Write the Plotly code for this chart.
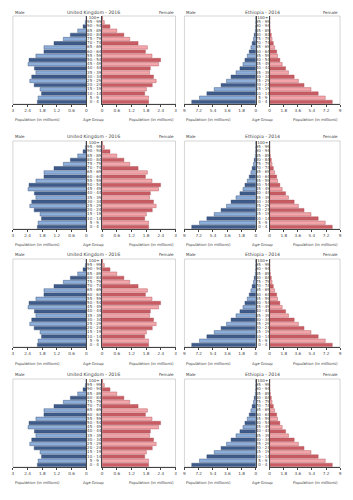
import plotly.graph_objects as go

age_groups = ["0 - 4", "5 - 9", "10 - 14", "15 - 19", "20 - 24", "25 - 29", "30 - 34",
              "35 - 39", "40 - 44", "45 - 49", "50 - 54", "55 - 59", "60 - 64", "65 - 69",
              "70 - 74", "75 - 79", "80 - 84", "85 - 89", "90 - 94", "95 - 99", "100+"]

uk_male = [2.00, 1.97, 1.83, 1.89, 2.13, 2.31, 2.23, 2.06, 2.12, 2.38, 2.34, 2.06,
           1.73, 1.73, 1.32, 0.94, 0.65, 0.35, 0.13, 0.04, 0.005]
uk_female = [1.90, 1.90, 1.74, 1.81, 2.05, 2.21, 2.10, 1.94, 1.97, 2.31, 2.39, 2.04,
             1.77, 1.85, 1.47, 1.13, 0.89, 0.60, 0.32, 0.09, 0.02]

eth_male = [8.08, 7.10, 6.17, 5.25, 4.38, 3.70, 3.12, 2.50, 2.00, 1.62, 1.37, 1.08,
            0.83, 0.62, 0.46, 0.30, 0.20, 0.06, 0.015, 0.002, 0.0]
eth_female = [8.00, 7.10, 6.20, 5.28, 4.39, 3.67, 3.13, 2.40, 2.03, 1.60, 1.30, 1.00,
              0.89, 0.63, 0.46, 0.30, 0.20, 0.08, 0.02, 0.004, 0.0]

uk_ticks = [0, 0.6, 1.2, 1.8, 2.4, 3]
eth_ticks = [0, 1.8, 3.6, 5.4, 7.2, 9]

countries = [
    ("United Kingdom - 2016", uk_male, uk_female, 3, uk_ticks),
    ("Ethiopia - 2014", eth_male, eth_female, 9, eth_ticks),
]

W, H = 353, 500
FONT = "DejaVu Sans"
TXT = "#444444"

# pixel layout (styles, not data)
col_px = [
    dict(male=(12, 86), mid=(86, 102), female=(102, 176), center=93),
    dict(male=(185, 257), mid=(257, 271), female=(271, 342), center=264),
]
row_top = [16, 141, 259, 379]
row_h = 88
title_y = [12, 136.5, 254, 374]
axtitle_y = [119, 244, 363, 482]

male_cols = ["#3e5b89", "#8eafd9"]
female_cols = ["#c95c63", "#f3a7ab"]
male_line = "#2c4570"
female_line = "#a84850"


def fx(px):
    return px / W


def fy(px):
    return 1 - px / H


fig = go.Figure()
layout = {}
annotations = []
shapes = []
n = 0

for r in range(4):
    ydom = [fy(row_top[r] + row_h), fy(row_top[r])]
    for c, (title, mvals, fvals, vmax, ticks) in enumerate(countries):
        cp = col_px[c]
        for part in ["male", "mid", "female"]:
            n += 1
            xa = "xaxis" if n == 1 else f"xaxis{n}"
            ya = "yaxis" if n == 1 else f"yaxis{n}"
            xr = "x" if n == 1 else f"x{n}"
            yr = "y" if n == 1 else f"y{n}"
            xdom = [fx(cp[part][0]), fx(cp[part][1])]
            yaxis_common = dict(domain=ydom, anchor=xr, type="category",
                                categoryorder="array", categoryarray=age_groups,
                                range=[-0.5, len(age_groups) - 0.5],
                                showticklabels=False, ticks="", showgrid=False,
                                zeroline=False)
            if part == "mid":
                fig.add_trace(go.Scatter(
                    x=[0.5] * len(age_groups), y=age_groups, text=age_groups,
                    mode="text", textfont=dict(size=4.0, color=TXT, family=FONT),
                    xaxis=xr, yaxis=yr, showlegend=False, hoverinfo="skip"))
                layout[xa] = dict(domain=xdom, anchor=yr, range=[0, 1], visible=False)
                layout[ya] = dict(yaxis_common, visible=False)
                continue
            vals = mvals if part == "male" else fvals
            cols = male_cols if part == "male" else female_cols
            lc = male_line if part == "male" else female_line
            fig.add_trace(go.Bar(
                x=vals, y=age_groups, orientation="h",
                marker=dict(color=[cols[i % 2] for i in range(len(vals))],
                            line=dict(color=lc, width=0.4)),
                xaxis=xr, yaxis=yr, showlegend=False))
            rng = [vmax, 0] if part == "male" else [0, vmax]
            layout[xa] = dict(domain=xdom, anchor=yr, range=rng,
                              tickvals=ticks, ticktext=[f"{t:g}" for t in ticks],
                              ticks="outside", ticklen=2, tickwidth=0.6,
                              tickcolor="#444", showline=True, linecolor="#444",
                              linewidth=0.7, showgrid=False, zeroline=False,
                              tickfont=dict(size=4.2, color=TXT, family=FONT))
            layout[ya] = dict(yaxis_common, showline=True, linecolor="#444",
                              linewidth=0.7,
                              side="right" if part == "male" else "left")
            # light frame around the plot area
            shapes.append(dict(type="rect", xref=f"{xr} domain", yref=f"{yr} domain",
                               x0=0, x1=1, y0=0, y1=1,
                               line=dict(color="#bbbbbb", width=0.6), layer="below"))

        # titles and labels
        annotations.append(dict(text=title, x=fx(cp["center"]), y=fy(title_y[r]),
                                xref="paper", yref="paper", showarrow=False,
                                xanchor="center", yanchor="middle",
                                font=dict(size=4.6, color=TXT, family=FONT)))
        annotations.append(dict(text="Male", x=fx(cp["male"][0]), y=fy(title_y[r]),
                                xref="paper", yref="paper", showarrow=False,
                                xanchor="left", yanchor="middle",
                                font=dict(size=4.0, color=TXT, family=FONT)))
        annotations.append(dict(text="Female", x=fx(cp["female"][1]), y=fy(title_y[r]),
                                xref="paper", yref="paper", showarrow=False,
                                xanchor="right", yanchor="middle",
                                font=dict(size=4.0, color=TXT, family=FONT)))
        annotations.append(dict(text="Population (in millions)", x=fx(cp["male"][0]),
                                y=fy(axtitle_y[r]), xref="paper", yref="paper",
                                showarrow=False, xanchor="left", yanchor="middle",
                                font=dict(size=3.9, color=TXT, family=FONT)))
        annotations.append(dict(text="Age Group", x=fx(cp["center"]),
                                y=fy(axtitle_y[r]), xref="paper", yref="paper",
                                showarrow=False, xanchor="center", yanchor="middle",
                                font=dict(size=3.9, color=TXT, family=FONT)))
        annotations.append(dict(text="Population (in millions)", x=fx(cp["female"][1]),
                                y=fy(axtitle_y[r]), xref="paper", yref="paper",
                                showarrow=False, xanchor="right", yanchor="middle",
                                font=dict(size=3.9, color=TXT, family=FONT)))

fig.update_layout(
    width=W, height=H, margin=dict(l=0, r=0, t=0, b=0),
    paper_bgcolor="white", plot_bgcolor="white",
    bargap=0.18, showlegend=False,
    annotations=annotations, shapes=shapes,
    font=dict(family=FONT, color=TXT),
    **layout,
)

fig.write_html("out.html")
